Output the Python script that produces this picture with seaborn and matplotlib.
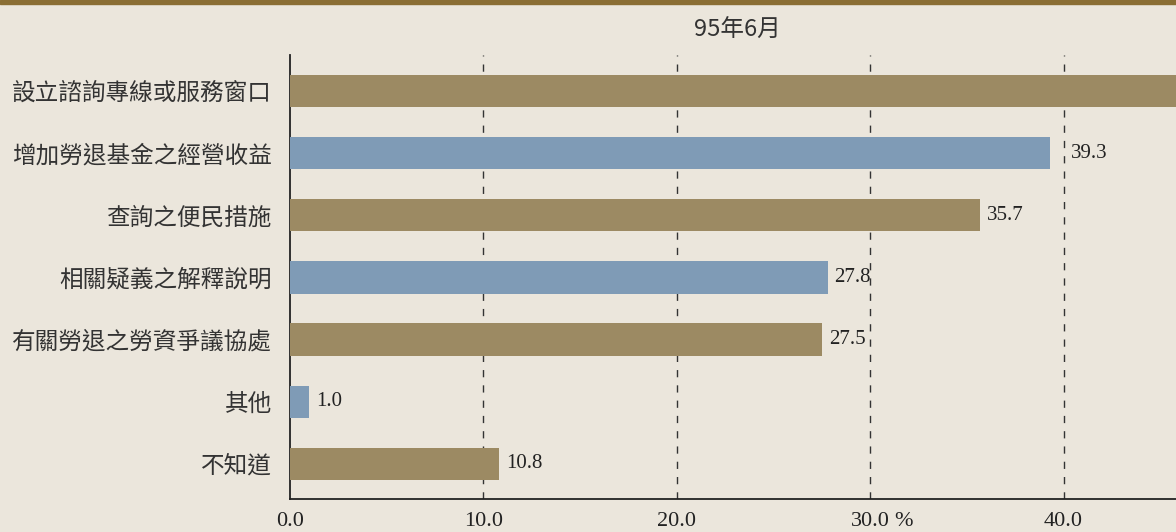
import matplotlib
matplotlib.use("Agg")
import matplotlib.pyplot as plt
import seaborn as sns
from matplotlib.patches import Rectangle

# data (first bar runs past the right edge)
categories = ["設立諮詢專線或服務窗口", "增加勞退基金之經營收益", "查詢之便民措施",
              "相關疑義之解釋說明", "有關勞退之勞資爭議協處", "其他", "不知道"]
values = [49.5, 39.3, 35.7, 27.8, 27.5, 1.0, 10.8]
tick_vals = [0, 10, 20, 30, 40]
tick_labels = ["0.0", "10.0", "20.0", "30.0", "40.0"]

brown = "#9C8A63"
blue = "#7F9BB6"
bg = "#EBE6DC"
bar_colors = [brown, blue, brown, blue, brown, blue, brown]

sns.set_style("white")
plt.rcParams["font.family"] = ["Noto Sans CJK TC", "DejaVu Sans"]
plt.rcParams["lines.scale_dashes"] = False

W, H = 1176, 532
fig = plt.figure(figsize=(W / 100, H / 100), dpi=100, facecolor=bg)
ax = fig.add_axes([290 / W, (H - 499) / H, (W - 290) / W, (499 - 55) / H])
ax.set_facecolor(bg)

# top band
fig.patches.append(Rectangle((0, 1 - 4 / H), 1, 4 / H, transform=fig.transFigure,
                             color="#8A6E34", zorder=5))

sns.barplot(x=values, y=categories, hue=categories, palette=bar_colors,
            orient="h", width=0.52, saturation=1, legend=False, ax=ax, zorder=3,
            linewidth=0, edgecolor="none")

px_per_unit = 19.34
ax.set_xlim(0, (W - 290) / px_per_unit)
ax.set_ylim(len(categories) - 0.435, -0.58)

for x in tick_vals[1:]:
    ax.axvline(x, color="#333333", lw=1.0, linestyle=(0, (5.2, 5.8)), zorder=1)

# value labels; push a label past a dashed line when it would sit on it
for i, v in enumerate(values):
    start = v
    for g in tick_vals[1:]:
        if 0 < g - v < 1.0:
            start = g
    ax.annotate(f"{v:.1f}", (start, i), xytext=(5, 0), textcoords="offset points",
                va="center", ha="left", fontsize=15, color="#222222",
                family="Liberation Serif", annotation_clip=True, clip_on=True)

ax.set_xticks(tick_vals)
ax.set_xticklabels(tick_labels, family="Liberation Serif", fontsize=16, color="#222222")
ax.tick_params(axis="x", length=0, pad=9)
ax.annotate("%", (30, 0), xycoords=("data", "axes fraction"), xytext=(17, -9),
            textcoords="offset points", ha="left", va="top", fontsize=16,
            family="Liberation Serif", color="#222222", annotation_clip=False)

ax.tick_params(axis="y", which="major", length=0, pad=13, labelsize=17, labelcolor="#333333")
for t in ax.get_yticklabels():
    t.set_fontweight("light")
ax.set_yticks([i + 0.5 for i in range(len(categories) - 1)], minor=True)
ax.tick_params(axis="y", which="minor", direction="in", length=7, width=1.2, color="#222222")

for s in ["top", "right"]:
    ax.spines[s].set_visible(False)
for s in ["left", "bottom"]:
    ax.spines[s].set_color("#222222")
    ax.spines[s].set_linewidth(1.3)

ax.set_xlabel("")
ax.set_ylabel("")
fig.text(737 / W, 1 - 30 / H, "95年6月", ha="center", va="center", fontsize=17,
         color="#333333")

fig.savefig("out.png", dpi=100, facecolor=bg)
